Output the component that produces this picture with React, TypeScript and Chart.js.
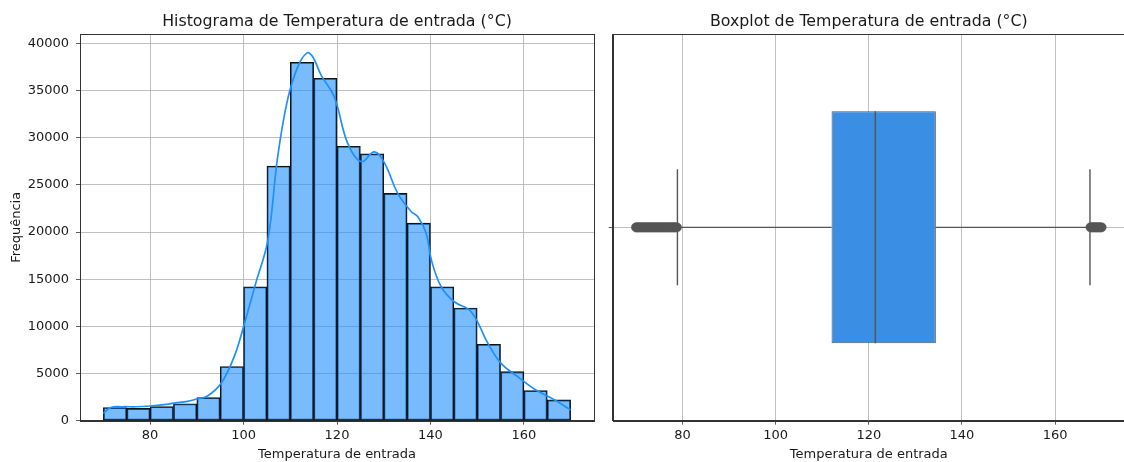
import React, { useEffect, useRef } from "react";
import { Chart, registerables } from "chart.js";

Chart.register(...registerables);

// ---------- Data ----------
const binEdges = [70, 75, 80, 85, 90, 95, 100, 105, 110, 115, 120, 125, 130, 135, 140, 145, 150, 155, 160, 165, 170];
const binCounts = [1400, 1300, 1500, 1800, 2450, 5750, 14200, 27000, 38000, 36300, 29100, 28300, 24100, 20950, 14200, 11950, 8100, 5200, 3200, 2200];

const kdeX = [70, 71.6, 74, 77, 80, 83, 85.2, 88, 90, 92.3, 95.2, 98, 100, 102.6, 105.2, 107.3, 109.4, 111.6, 113.6, 114.8, 116.6, 119.4, 122.3, 125.2, 128, 130.2, 133, 135.9, 137.3, 139.1, 140.2, 142.3, 145.1, 148.7, 152.3, 155.1, 158.7, 162.3, 166.6, 170];
const kdeY = [780, 1400, 1480, 1480, 1560, 1700, 1870, 2050, 2300, 2620, 3960, 6790, 9960, 14560, 19150, 27980, 33990, 37520, 39000, 38580, 36640, 34340, 29400, 27450, 28510, 27280, 24100, 22150, 21620, 19860, 17030, 14200, 12610, 11550, 8200, 6080, 4660, 3330, 2190, 1130];

const xTickValues = [80, 100, 120, 140, 160];
const histYTickValues = [0, 5000, 10000, 15000, 20000, 25000, 30000, 35000, 40000];

const boxQ1 = 112.0;
const boxMedian = 121.4;
const boxQ3 = 134.4;
const whiskerLow = 78.9;
const whiskerHigh = 167.5;
const outliersLow = [70.0, 70.2, 70.5, 70.7, 71.0, 71.3, 71.5, 71.8, 72.1, 72.3, 72.6, 72.9, 73.1, 73.4, 73.7, 73.9, 74.2, 74.5, 74.8, 75.0, 75.3, 75.6, 75.8, 76.1, 76.4, 76.6, 76.9, 77.2, 77.4, 77.7, 78.0, 78.2, 78.5, 78.8];
const outliersHigh = [167.6, 167.9, 168.1, 168.4, 168.7, 168.9, 169.2, 169.5, 169.7, 170.0];

const histTitle = "Histograma de Temperatura de entrada (°C)";
const boxTitle = "Boxplot de Temperatura de entrada (°C)";
const xLabel = "Temperatura de entrada";
const yLabel = "Frequência";

// ---------- Styles ----------
const FAMILY = "'DejaVu Sans', 'Liberation Sans', sans-serif";
const tickFont = { family: FAMILY, size: 13 };
const TEXT = "#1a1a1a";
const GRID = "#b0b0b0";
const SPINE = "#333333";

const frameTitlePlugin = (title: string) => ({
  id: "frameTitle",
  afterDraw(chart: any) {
    const { ctx, chartArea: a } = chart;
    ctx.save();
    ctx.strokeStyle = SPINE;
    ctx.lineWidth = 1;
    ctx.strokeRect(Math.round(a.left) + 0.5, Math.round(a.top) + 0.5, Math.round(a.right - a.left), Math.round(a.bottom - a.top));
    ctx.fillStyle = TEXT;
    ctx.font = `15.8px ${FAMILY}`;
    ctx.textAlign = "center";
    ctx.textBaseline = "alphabetic";
    ctx.fillText(title, (a.left + a.right) / 2, 26);
    ctx.restore();
  },
});

const numLabel = (v: any) => String(v);

function makeHistConfig(): any {
  return {
    type: "bar",
    data: {
      datasets: [
        {
          type: "line",
          label: "KDE",
          data: kdeX.map((x, i) => ({ x, y: kdeY[i] })),
          borderColor: "#1E90FF",
          borderWidth: 1.7,
          pointRadius: 0,
          tension: 0.4,
          fill: false,
          order: 0,
        },
        {
          type: "bar",
          label: "Frequência",
          data: binCounts.map((c, i) => ({ x: (binEdges[i] + binEdges[i + 1]) / 2, y: c })),
          backgroundColor: "rgba(30,144,255,0.6)",
          borderColor: "#111111",
          borderWidth: 1.2,
          borderSkipped: false,
          categoryPercentage: 1,
          barPercentage: 1,
          order: 1,
        },
      ],
    },
    options: {
      responsive: false,
      animation: false,
      devicePixelRatio: 1,
      events: [],
      layout: { padding: { left: 0, right: 6, top: 34, bottom: 0 } },
      plugins: { legend: { display: false }, tooltip: { enabled: false }, title: { display: false } },
      scales: {
        x: {
          type: "linear",
          min: 65,
          max: 175,
          offset: false,
          afterBuildTicks: (s: any) => { s.ticks = xTickValues.map((v) => ({ value: v })); },
          afterFit: (s: any) => { s.height = 41.3; },
          grid: { color: GRID, lineWidth: 0.8, tickLength: 4, tickColor: SPINE, offset: false, drawTicks: true },
          border: { display: true, color: SPINE, width: 1 },
          ticks: { font: tickFont, color: TEXT, padding: 3, maxRotation: 0, autoSkip: false, callback: numLabel },
          title: { display: true, text: xLabel, font: tickFont, color: TEXT, padding: { top: 0, bottom: 0 } },
        },
        y: {
          type: "linear",
          min: 0,
          max: 41000,
          afterBuildTicks: (s: any) => { s.ticks = histYTickValues.map((v) => ({ value: v })); },
          afterFit: (s: any) => { s.width = 80; },
          grid: { color: GRID, lineWidth: 0.8, tickLength: 4, tickColor: SPINE, drawTicks: true },
          border: { display: true, color: SPINE, width: 1 },
          ticks: { font: tickFont, color: TEXT, padding: 7, autoSkip: false, callback: numLabel },
          title: { display: true, text: yLabel, font: tickFont, color: TEXT, padding: { top: 8.7, bottom: 0 } },
        },
      },
    },
    plugins: [frameTitlePlugin(histTitle)],
  };
}

function makeBoxConfig(): any {
  const boxWidth = 0.6;
  const capWidth = 0.3;
  const lineStyle = { borderColor: "#555555", borderWidth: 1.4, pointRadius: 0, fill: false, tension: 0 };
  return {
    type: "scatter",
    data: {
      datasets: [
        {
          type: "scatter",
          label: "outliers",
          data: [...outliersLow, ...outliersHigh].map((v) => ({ x: v, y: 0 })),
          pointRadius: 4.6,
          backgroundColor: "#555555",
          borderColor: "#555555",
          borderWidth: 0.5,
          order: 0,
        },
        { type: "line", label: "median", data: [{ x: boxMedian, y: -boxWidth / 2 }, { x: boxMedian, y: boxWidth / 2 }], ...lineStyle, order: 1 },
        { type: "line", label: "wl", data: [{ x: whiskerLow, y: 0 }, { x: boxQ1, y: 0 }], ...lineStyle, order: 2 },
        { type: "line", label: "wh", data: [{ x: boxQ3, y: 0 }, { x: whiskerHigh, y: 0 }], ...lineStyle, order: 2 },
        { type: "line", label: "cl", data: [{ x: whiskerLow, y: -capWidth / 2 }, { x: whiskerLow, y: capWidth / 2 }], ...lineStyle, order: 2 },
        { type: "line", label: "ch", data: [{ x: whiskerHigh, y: -capWidth / 2 }, { x: whiskerHigh, y: capWidth / 2 }], ...lineStyle, order: 2 },
        {
          type: "bar",
          label: "box",
          indexAxis: "y",
          data: [{ y: 0, x: [boxQ1, boxQ3] }],
          backgroundColor: "#3A8EE3",
          borderColor: "#555555",
          borderWidth: 1,
          borderSkipped: false,
          categoryPercentage: 1,
          barPercentage: boxWidth,
          order: 5,
        },
      ],
    },
    options: {
      responsive: false,
      animation: false,
      devicePixelRatio: 1,
      events: [],
      layout: { padding: { left: 0, right: 4.2, top: 34, bottom: 0 } },
      plugins: { legend: { display: false }, tooltip: { enabled: false }, title: { display: false } },
      scales: {
        x: {
          type: "linear",
          min: 65,
          max: 175,
          offset: false,
          afterBuildTicks: (s: any) => { s.ticks = xTickValues.map((v) => ({ value: v })); },
          afterFit: (s: any) => { s.height = 41.3; },
          grid: { color: GRID, lineWidth: 0.8, tickLength: 4, tickColor: SPINE, offset: false },
          border: { display: true, color: SPINE, width: 1 },
          ticks: { font: tickFont, color: TEXT, padding: 3, maxRotation: 0, autoSkip: false, callback: numLabel },
          title: { display: true, text: xLabel, font: tickFont, color: TEXT, padding: { top: 0, bottom: 0 } },
        },
        y: {
          type: "linear",
          min: -0.5,
          max: 0.5,
          offset: false,
          afterBuildTicks: (s: any) => { s.ticks = [{ value: 0 }]; },
          afterFit: (s: any) => { s.width = 12.7; },
          grid: { color: GRID, lineWidth: 0.8, tickLength: 4, tickColor: SPINE, offset: false },
          border: { display: true, color: SPINE, width: 1 },
          ticks: { font: tickFont, color: TEXT, padding: 0, callback: () => "" },
        },
      },
    },
    plugins: [frameTitlePlugin(boxTitle)],
  };
}

function ChartCanvas({ left, width, height, makeConfig }: { left: number; width: number; height: number; makeConfig: () => any }) {
  const ref = useRef<HTMLCanvasElement | null>(null);
  useEffect(() => {
    if (!ref.current) return;
    const chart = new Chart(ref.current, makeConfig());
    return () => chart.destroy();
  }, []);
  return (
    <canvas
      ref={ref}
      width={width}
      height={height}
      style={{ position: "absolute", left, top: 0, width, height, display: "block" }}
    />
  );
}

export default function App() {
  return (
    <div
      style={{
        position: "fixed",
        left: 0,
        top: 0,
        width: 1124,
        height: 462,
        overflow: "hidden",
        background: "#ffffff",
      }}
    >
      <ChartCanvas left={0} width={600} height={462} makeConfig={makeHistConfig} />
      <ChartCanvas left={600} width={530} height={462} makeConfig={makeBoxConfig} />
    </div>
  );
}
